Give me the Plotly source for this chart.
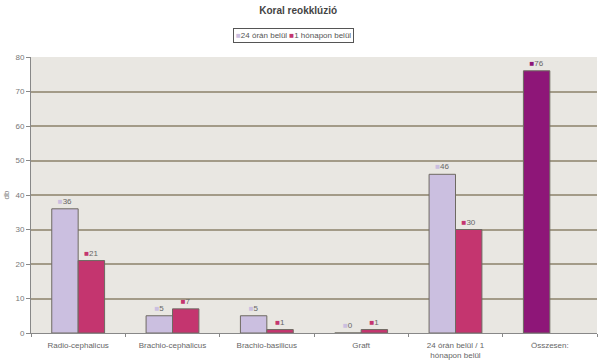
import plotly.graph_objects as go

categories = ["Radio-cephalicus", "Brachio-cephalicus", "Brachio-basilicus", "Graft",
              "24 órán belül / 1<br>hónapon belül", "Összesen:"]
series1_name = "24 órán belül"
series2_name = "1 hónapon belül"
series1 = [36, 5, 5, 0, 46, 76]
series2 = [21, 7, 1, 1, 30, None]
y_ticks = [0, 10, 20, 30, 40, 50, 60, 70, 80]

c1 = "#CBBFE0"
c2 = "#C4356F"
c_total = "#8E1678"
colors1 = [c1] * 5 + [c_total]

def labels(vals, colors):
    out = []
    for v, c in zip(vals, colors):
        if v is None:
            out.append("")
        else:
            out.append(f"<span style='color:{c}'>■</span>{v}")
    return out

fig = go.Figure()
fig.add_trace(go.Bar(
    x=categories, y=series1, name=series1_name,
    marker=dict(color=colors1, line=dict(color="#6E6A62", width=1)),
    text=labels(series1, colors1), textposition="outside", cliponaxis=False,
    textfont=dict(size=8, color="#666", family="Liberation Sans"),
))
fig.add_trace(go.Bar(
    x=categories, y=series2, name=series2_name,
    marker=dict(color=c2, line=dict(color="#6E6A62", width=1)),
    text=labels(series2, [c2] * 6), textposition="outside", cliponaxis=False,
    textfont=dict(size=8, color="#666", family="Liberation Sans"),
))

legend_text = (f"<span style='color:{c1}'>■</span>{series1_name} "
               f"<span style='color:{c2}'>■</span>{series2_name}")

fig.update_layout(
    width=600, height=364,
    margin=dict(l=31, r=3, t=57, b=31),
    paper_bgcolor="white", plot_bgcolor="#E9E7E2",
    barmode="group", bargap=0.44, bargroupgap=0,
    title=dict(text="<b>Koral reokklúzió</b>", x=0.497, xanchor="center",
               y=1 - 10 / 364, yanchor="middle", pad=dict(t=0, b=0),
               font=dict(size=10, color="#444", family="Liberation Sans")),
    showlegend=False,
    font=dict(family="Liberation Sans", color="#666"),
    annotations=[dict(
        text=legend_text, xref="paper", yref="paper", x=0.464, y=(364 - 31 - 35) / 276,
        xanchor="center", yanchor="middle", showarrow=False,
        bordercolor="#555", borderwidth=1, borderpad=2, bgcolor="white",
        font=dict(size=8, color="#555", family="Liberation Sans"),
    )],
)
fig.update_xaxes(
    tickson="boundaries", ticks="outside", ticklen=3, tickcolor="#888",
    showline=True, linecolor="#888", linewidth=1, automargin=False,
    tickfont=dict(size=8, color="#666"), mirror=False, ticklabelstandoff=4,
)
fig.update_yaxes(
    range=[0, 80], tickvals=y_ticks, ticks="outside", ticklen=4, tickcolor="#888",
    showline=True, linecolor="#888", linewidth=1, automargin=False,
    gridcolor="#A39B88", gridwidth=1.5,
    tickfont=dict(size=8, color="#777"),
    title=dict(text="db", font=dict(size=8, color="#777"), standoff=4),
    zeroline=False,
)
fig.write_html("out.html", config={"displayModeBar": False},
               post_script="document.body.style.margin='0';")
